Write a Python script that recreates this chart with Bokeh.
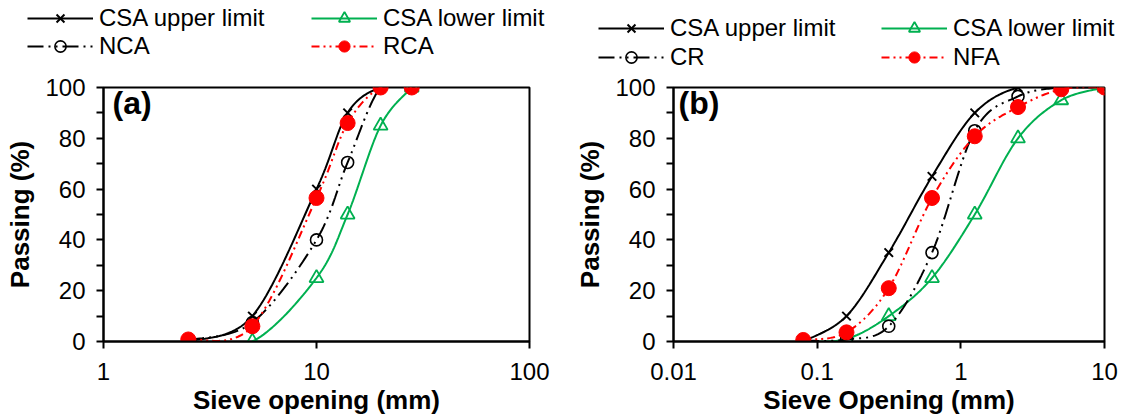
import numpy as np
from bokeh.plotting import figure
from bokeh.models import Legend, LegendItem, FixedTicker, Label, Range1d
from bokeh.layouts import row, column
from bokeh.embed import file_html
from bokeh.resources import INLINE

# ---------------- data: panel (a) coarse aggregate ----------------
sieve_a = [2.5, 5, 10, 14, 20, 28]
csa_upper_a = [0, 10, 60, 90, 100, 100]
csa_lower_a = [0, 0, 25, 50, 85, 100]
nca = [0.5, 7.5, 40, 70.5, 100, 100]
rca = [0.8, 6, 56.5, 86, 100, 100]

# ---------------- data: panel (b) fine aggregate ----------------
sieve_b = [0.08, 0.16, 0.315, 0.63, 1.25, 2.5, 5, 10]
csa_upper_b = [0, 10, 35, 65, 90, 100, 100, 100]
csa_lower_b = [0, 1, 10, 25, 50, 80, 95, 100]
cr = [0.3, 0.8, 6, 35, 83, 96.5, 100, 100]
nfa = [0.6, 3.6, 21, 56.5, 80.8, 92.3, 99.3, 100]

# ---------------- ticks / labels ----------------
y_ticks = [0, 20, 40, 60, 80, 100]
y_minor = [10, 30, 50, 70, 90]
x_ticks_a = [1, 10, 100]
x_labels_a = ["1", "10", "100"]
x_ticks_b = [0.01, 0.1, 1, 10]
x_labels_b = ["0.01", "0.1", "1", "10"]
names_a = ["CSA upper limit", "CSA lower limit", "NCA", "RCA"]
names_b = ["CSA upper limit", "CSA lower limit", "CR", "NFA"]

FONT = "Liberation Sans"
GREEN = "#00B050"
RED = "#FF0000"

LEG_H = 74
MAIN_H = 419 - LEG_H

STYLES = {
    "upper": dict(line=dict(line_color="black", line_width=2),
                  marker=dict(marker="x", size=12, line_color="black", line_width=2)),
    "lower": dict(line=dict(line_color=GREEN, line_width=2),
                  marker=dict(marker="triangle", size=14, line_color=GREEN,
                              fill_color=None, line_width=1.8)),
    "s1": dict(line=dict(line_color="black", line_width=2, line_dash="16 5 2 5 2 5"),
               marker=dict(marker="circle", size=12, line_color="black",
                           fill_color=None, line_width=1.6)),
    "s2": dict(line=dict(line_color=RED, line_width=2, line_dash="8 4 2 4 2 4"),
               marker=dict(marker="circle", size=15, line_color=RED,
                           fill_color=RED, line_width=1)),
}
ORDER = ["upper", "lower", "s1", "s2"]


def smooth(xs, ys, px_dec, px_unit, n=24):
    """Excel-like smoothed line (Catmull-Rom Bezier) through the data points,
    computed in screen-proportional space (log x, linear y)."""
    u = np.log10(np.asarray(xs, float)) * px_dec
    v = np.asarray(ys, float) * px_unit
    P = np.column_stack([u, v])
    m = len(P)
    out = [P[0]]
    t = np.linspace(0, 1, n + 1)[1:, None]
    for i in range(m - 1):
        p0 = P[i - 1] if i > 0 else P[i]
        p1, p2 = P[i], P[i + 1]
        p3 = P[i + 2] if i + 2 < m else P[i + 1]
        c1 = p1 + (p2 - p0) / 6.0
        c2 = p2 - (p3 - p1) / 6.0
        B = (1 - t) ** 3 * p1 + 3 * (1 - t) ** 2 * t * c1 + 3 * (1 - t) * t ** 2 * c2 + t ** 3 * p2
        out.extend(B)
    out = np.array(out)
    return list(10 ** (out[:, 0] / px_dec)), list(out[:, 1] / px_unit)


def make_panel(width, xr, xticks, xlabels, xlabel, min_left, min_right, frame_w,
               series, panel_text, panel_dx):
    p = figure(width=width, height=MAIN_H, x_axis_type="log",
               x_range=Range1d(*xr), y_range=Range1d(0, 100),
               output_backend="svg", toolbar_location=None,
               min_border_left=min_left, min_border_right=min_right,
               min_border_top=87 - LEG_H, min_border_bottom=78)
    p.grid.visible = False
    p.outline_line_color = "black"
    p.outline_line_width = 2
    p.background_fill_color = "white"
    p.border_fill_color = "white"

    px_dec = frame_w / (np.log10(xr[1]) - np.log10(xr[0]))
    px_unit = 254 / 100.0

    p.xaxis.ticker = FixedTicker(ticks=xticks, minor_ticks=[])
    p.xaxis.major_label_overrides = dict(zip(xticks, xlabels))
    p.yaxis.ticker = FixedTicker(ticks=y_ticks, minor_ticks=y_minor)
    p.xaxis.axis_label = xlabel
    p.yaxis.axis_label = "Passing (%)"
    for ax in (p.xaxis[0], p.yaxis[0]):
        ax.axis_line_width = 2
        ax.axis_line_color = "black"
        ax.major_tick_line_width = 2
        ax.minor_tick_line_width = 2
        ax.major_tick_in = 0
        ax.major_tick_out = 7
        ax.minor_tick_in = 0
        ax.minor_tick_out = 7
        ax.major_label_text_font = FONT
        ax.major_label_text_font_size = "24px"
        ax.major_label_text_color = "black"
        ax.axis_label_text_font = FONT
        ax.axis_label_text_font_size = "26px"
        ax.axis_label_text_font_style = "bold"
        ax.axis_label_text_color = "black"
    p.xaxis.major_label_standoff = 14
    p.xaxis.axis_label_standoff = 2
    p.yaxis.major_label_standoff = 11
    p.yaxis.axis_label_standoff = 7

    xs = series["x"]
    for key in ORDER:
        ys = series[key]
        sx, sy = smooth(xs, ys, px_dec, px_unit)
        p.line(sx, sy, **STYLES[key]["line"])
        p.scatter(xs, ys, **STYLES[key]["marker"])

    p.add_layout(Label(x=xr[0], y=100, x_offset=panel_dx, y_offset=3, text=panel_text,
                       text_baseline="top", text_align="left",
                       text_font=FONT, text_font_size="32px", text_font_style="bold",
                       text_color="black"))
    return p


def make_legend_fig(width, names, col_x, vy, spacing):
    f = figure(width=width, height=LEG_H, x_range=Range1d(0, 1), y_range=Range1d(0, 1),
               output_backend="svg", toolbar_location=None,
               x_axis_location=None, y_axis_location=None,
               min_border=0, min_border_left=0, min_border_right=0,
               min_border_top=0, min_border_bottom=0)
    f.grid.visible = False
    f.outline_line_color = None
    f.background_fill_color = "white"
    f.border_fill_color = "white"
    rend = {}
    for key in ORDER:
        # legend proxies: one undefined (NaN) point, nothing visible in the plot area
        l = f.line([np.nan], [np.nan], **STYLES[key]["line"])
        m = f.scatter([np.nan], [np.nan], **STYLES[key]["marker"])
        rend[key] = [l, m]
    common = dict(orientation="vertical", padding=0, spacing=spacing, margin=0,
                  glyph_width=66, glyph_height=28, label_height=24, label_standoff=6,
                  label_text_font=FONT, label_text_font_size="24px",
                  label_text_color="black",
                  border_line_alpha=0, background_fill_alpha=0)
    lg1 = Legend(items=[LegendItem(label=names[0], renderers=rend["upper"]),
                        LegendItem(label=names[2], renderers=rend["s1"])],
                 location=(col_x[0], vy), **common)
    lg2 = Legend(items=[LegendItem(label=names[1], renderers=rend["lower"]),
                        LegendItem(label=names[3], renderers=rend["s2"])],
                 location=(col_x[1], vy), **common)
    f.add_layout(lg1)
    f.add_layout(lg2)
    return f


W_A = 552
W_B = 1123 - W_A

pa = make_panel(W_A, (1, 100), x_ticks_a, x_labels_a, "Sieve opening (mm)",
                103, W_A - 103 - 426, 426,
                dict(x=sieve_a, upper=csa_upper_a, lower=csa_lower_a, s1=nca, s2=rca),
                "(a)", 9)

pb = make_panel(W_B, (0.01, 10), x_ticks_b, x_labels_b, "Sieve Opening (mm)",
                673 - W_A, W_B - (673 - W_A) - 431, 431,
                dict(x=sieve_b, upper=csa_upper_b, lower=csa_lower_b, s1=cr, s2=nfa),
                "(b)", 5)

la = make_legend_fig(W_A, names_a, (27, 311), 14, -7)
lb = make_legend_fig(W_B, names_b, (598 - W_A, 881 - W_A), 3, 1)

layout = column(row(la, lb), row(pa, pb))
open("out.html", "w").write(file_html(layout, INLINE))
